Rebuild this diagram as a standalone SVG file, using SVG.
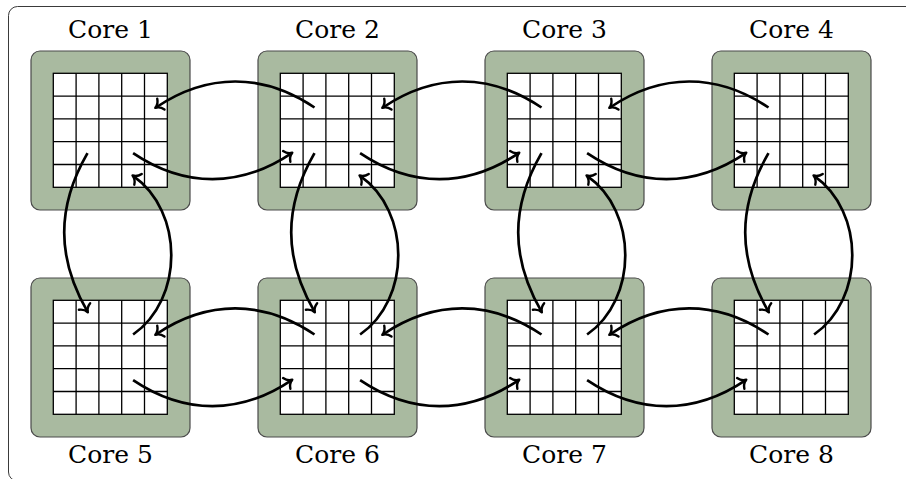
<svg xmlns="http://www.w3.org/2000/svg" xmlns:xlink="http://www.w3.org/1999/xlink" width="906" height="479" viewBox="0 0 906 479">
  <style>
    .frame { fill: none; stroke: #3a3a3a; stroke-width: 1; }
    .pad { fill: #a9baa0; stroke: #4a4a4a; stroke-width: 1.2; }
    .cells { fill: #ffffff; stroke: #000000; stroke-width: 1.3; }
    .label { font-family: "DejaVu Serif", "Liberation Serif", serif; font-size: 25px; fill: #000000; text-anchor: middle; }
    .link { fill: none; stroke: #000000; stroke-width: 2.7; marker-end: url(#tip); }
  </style>
  <defs>
    <marker id="tip" markerUnits="userSpaceOnUse" viewBox="-8 -8 10 16" markerWidth="10" markerHeight="16" refX="0" refY="0" orient="auto" overflow="visible">
      <path d="M-6,-6.5 C-4.5,-2.7 -1.7,-0.7 0.7,0 C-1.7,0.7 -4.5,2.7 -6,6.5" fill="none" stroke="#000" stroke-width="2.4" stroke-linecap="round" stroke-linejoin="round"/>
    </marker>
    <!-- one core: green pad with a 5x5 cell grid -->
    <g id="tile">
      <rect class="pad" x="0" y="0" width="159" height="159" rx="9"/>
      <rect class="cells" x="22.3" y="22.3" width="114" height="114"/>
      <path class="cells" d="M45.1,22.3V136.3M67.9,22.3V136.3M90.7,22.3V136.3M113.5,22.3V136.3M22.3,45.1H136.3M22.3,67.9H136.3M22.3,90.7H136.3M22.3,113.5H136.3"/>
    </g>
  </defs>

  <rect class="frame" x="8.5" y="6.5" width="920" height="474.5" rx="9"/>

  <g id="core1" transform="translate(31,51)"><use xlink:href="#tile"/><text class="label" x="79.5" y="-12.7">Core 1</text></g>
  <g id="core2" transform="translate(258,51)"><use xlink:href="#tile"/><text class="label" x="79.5" y="-12.7">Core 2</text></g>
  <g id="core3" transform="translate(485,51)"><use xlink:href="#tile"/><text class="label" x="79.5" y="-12.7">Core 3</text></g>
  <g id="core4" transform="translate(712,51)"><use xlink:href="#tile"/><text class="label" x="79.5" y="-12.7">Core 4</text></g>
  <g id="core5" transform="translate(31,278)"><use xlink:href="#tile"/><text class="label" x="79.5" y="185">Core 5</text></g>
  <g id="core6" transform="translate(258,278)"><use xlink:href="#tile"/><text class="label" x="79.5" y="185">Core 6</text></g>
  <g id="core7" transform="translate(485,278)"><use xlink:href="#tile"/><text class="label" x="79.5" y="185">Core 7</text></g>
  <g id="core8" transform="translate(712,278)"><use xlink:href="#tile"/><text class="label" x="79.5" y="185">Core 8</text></g>

  <g id="connectors">
    <!-- top row: leftward (upper arcs) -->
    <path class="link" d="M314.5,107.5 C263,72.8 207.4,72.8 155.9,107.5"/>
    <path class="link" d="M541.5,107.5 C490,72.8 434.4,72.8 382.9,107.5"/>
    <path class="link" d="M768.5,107.5 C717,72.8 661.4,72.8 609.9,107.5"/>
    <!-- top row: rightward (lower arcs) -->
    <path class="link" d="M133.1,153.1 C184.6,187.8 240.2,187.8 291.7,153.1"/>
    <path class="link" d="M360.1,153.1 C411.6,187.8 467.2,187.8 518.7,153.1"/>
    <path class="link" d="M587.1,153.1 C638.6,187.8 694.2,187.8 745.7,153.1"/>
    <!-- bottom row: leftward -->
    <path class="link" d="M314.5,334.5 C263,299.8 207.4,299.8 155.9,334.5"/>
    <path class="link" d="M541.5,334.5 C490,299.8 434.4,299.8 382.9,334.5"/>
    <path class="link" d="M768.5,334.5 C717,299.8 661.4,299.8 609.9,334.5"/>
    <!-- bottom row: rightward -->
    <path class="link" d="M133.1,380.1 C184.6,414.8 240.2,414.8 291.7,380.1"/>
    <path class="link" d="M360.1,380.1 C411.6,414.8 467.2,414.8 518.7,380.1"/>
    <path class="link" d="M587.1,380.1 C638.6,414.8 694.2,414.8 745.7,380.1"/>
    <!-- downward (left bulge) -->
    <path class="link" d="M87.5,153.1 C56.45,206.9 56.45,257.9 87.5,311.7"/>
    <path class="link" d="M314.5,153.1 C283.45,206.9 283.45,257.9 314.5,311.7"/>
    <path class="link" d="M541.5,153.1 C510.45,206.9 510.45,257.9 541.5,311.7"/>
    <path class="link" d="M768.5,153.1 C737.45,206.9 737.45,257.9 768.5,311.7"/>
    <!-- upward (right bulge) -->
    <path class="link" d="M133.1,334.5 C184,298.9 184,211.5 133.1,175.9"/>
    <path class="link" d="M360.1,334.5 C411,298.9 411,211.5 360.1,175.9"/>
    <path class="link" d="M587.1,334.5 C638,298.9 638,211.5 587.1,175.9"/>
    <path class="link" d="M814.1,334.5 C865,298.9 865,211.5 814.1,175.9"/>
  </g>
</svg>
